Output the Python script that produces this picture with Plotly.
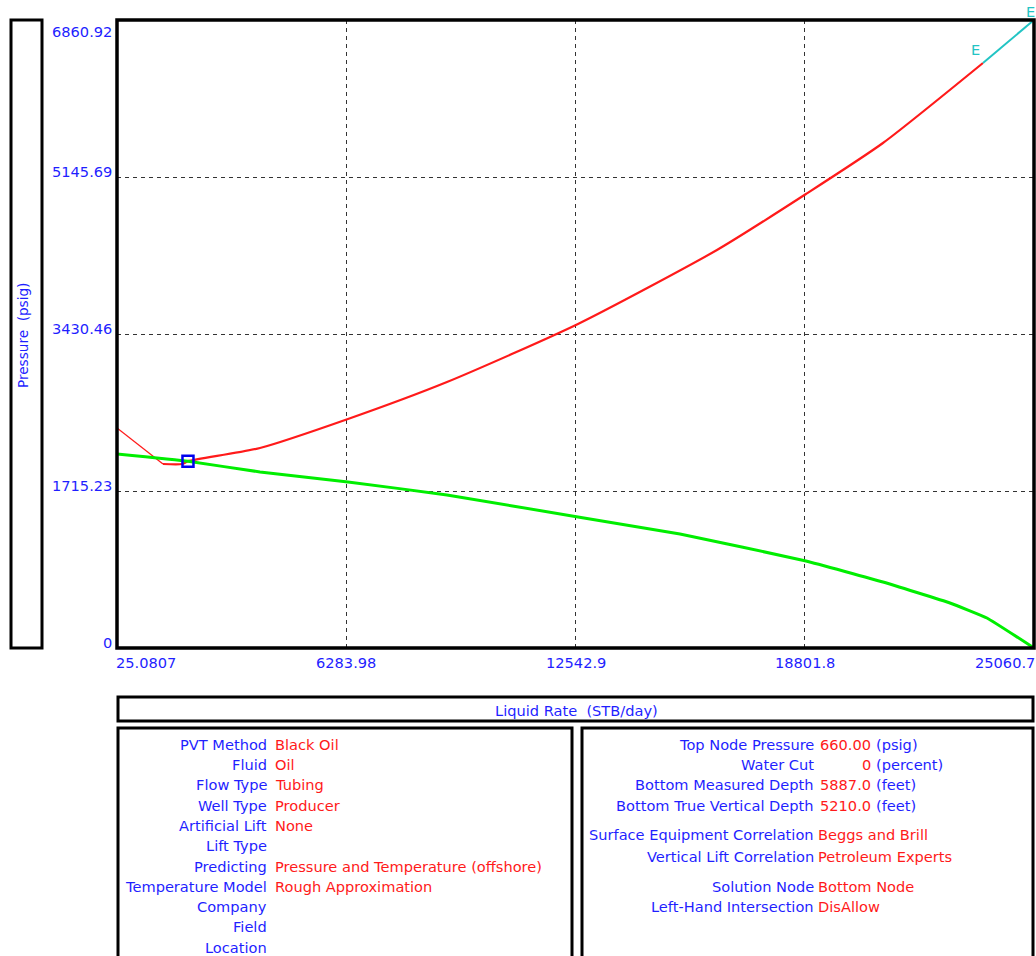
import plotly.graph_objects as go

# ---- data -------------------------------------------------------------
# VLP (tubing performance) curve: liquid rate (STB/day) vs pressure (psig)
vlp_rate = [25.0807, 1281, 1800, 1963, 3929, 6331, 9034, 12611, 16405, 18835,
            20937, 23667]
vlp_pres = [2404, 2010, 2010, 2040, 2185, 2502, 2906, 3540, 4348, 4960,
            5517, 6391]

# extrapolated tail of the VLP curve
ext_rate = [23667, 25060.7]
ext_pres = [6391, 6860.92]

# IPR (inflow performance) curve
ipr_rate = [25.0807, 1963, 3929, 6331, 9034, 12611, 15395, 18835, 20937, 22766,
            23776, 25060.7]
ipr_pres = [2119, 2040, 1923, 1814, 1672, 1431, 1245, 951, 721, 492,
            328, 0]

# operating point
sol_rate = [1963]
sol_pres = [2040]

# axis ticks
x_ticks = [25.0807, 6283.98, 12542.9, 18801.8, 25060.7]
x_tick_labels = ["25.0807", "6283.98", "12542.9", "18801.8", "25060.7"]
y_ticks = [0, 1715.23, 3430.46, 5145.69, 6860.92]
y_tick_labels = ["0", "1715.23", "3430.46", "5145.69", "6860.92"]

# summary panels
left_keys = ["PVT Method", "Fluid", "Flow Type", "Well Type", "Artificial Lift",
             "Lift Type", "Predicting", "Temperature Model", "Company", "Field",
             "Location"]
left_vals = ["Black Oil", "Oil", "Tubing", "Producer", "None", "",
             "Pressure and Temperature (offshore)", "Rough Approximation", "", "", ""]

right_keys = ["Top Node Pressure", "Water Cut", "Bottom Measured Depth",
              "Bottom True Vertical Depth", "Surface Equipment Correlation",
              "Vertical Lift Correlation", "Solution Node", "Left-Hand Intersection"]
right_vals = ["660.00", "0", "5887.0", "5210.0", "Beggs and Brill",
              "Petroleum Experts", "Bottom Node", "DisAllow"]
right_units = ["(psig)", "(percent)", "(feet)", "(feet)", "", "", "", ""]

# ---- styling ----------------------------------------------------------
W, H = 1036, 956
FONT = "DejaVu Sans"
FS = 14.6
BLUE = "#1f1fff"
RED = "#ff1a1a"
CYAN = "#22c4c4"


def px(x):
    return x / W


def py(y):
    return 1 - y / H


X0, X1, Y0, Y1 = 117, 1034, 20, 648   # plot frame in pixels

fig = go.Figure()

# unstable left part of the VLP curve (thin)
fig.add_trace(go.Scatter(x=vlp_rate[:2], y=vlp_pres[:2], mode="lines",
                         line=dict(color=RED, width=1.3), hoverinfo="skip"))
fig.add_trace(go.Scatter(x=vlp_rate[1:], y=vlp_pres[1:], mode="lines",
                         line=dict(color=RED, width=2.2, shape="spline", smoothing=0.6),
                         name="VLP"))
fig.add_trace(go.Scatter(x=ext_rate, y=ext_pres, mode="lines",
                         line=dict(color=CYAN, width=2), name="Extrapolated"))
fig.add_trace(go.Scatter(x=ipr_rate, y=ipr_pres, mode="lines",
                         line=dict(color="#00ee00", width=3, shape="spline", smoothing=0.3),
                         name="IPR"))
fig.add_trace(go.Scatter(x=sol_rate, y=sol_pres, mode="markers",
                         marker=dict(symbol="square-open", size=11, color="#0000ee",
                                     line=dict(width=2.5, color="#0000ee")),
                         name="Solution"))

annotations = []

# y tick labels
for v, t in zip(y_ticks, y_tick_labels):
    top = v == y_ticks[-1]
    annotations.append(dict(x=px(114), xref="paper", y=v, yref="y", text=t,
                            showarrow=False, xanchor="right", yanchor="middle",
                            yshift=-11 if top else 6,
                            font=dict(family=FONT, size=FS, color=BLUE)))

# x tick labels
for i, (v, t) in enumerate(zip(x_ticks, x_tick_labels)):
    anchor = "left" if i == 0 else ("right" if i == len(x_ticks) - 1 else "center")
    annotations.append(dict(x=v, xref="x", y=py(662), yref="paper", text=t,
                            showarrow=False, xanchor=anchor, yanchor="middle",
                            xshift=-3 if i == 0 else (3 if anchor == "right" else 0),
                            font=dict(family=FONT, size=FS, color=BLUE)))

# "E" markers at both ends of the extrapolated segment
annotations.append(dict(x=ext_rate[0], y=ext_pres[0], xref="x", yref="y", text="E",
                        showarrow=False, xanchor="right", yanchor="bottom",
                        xshift=-1, yshift=3,
                        font=dict(family=FONT, size=FS, color=CYAN)))
annotations.append(dict(x=ext_rate[1], y=ext_pres[1], xref="x", yref="y", text="E",
                        showarrow=False, xanchor="right", yanchor="bottom",
                        xshift=3, yshift=-2,
                        font=dict(family=FONT, size=FS, color=CYAN)))

# axis titles
annotations.append(dict(x=px(23), y=py(336), xref="paper", yref="paper",
                        text="Pressure  (psig)", textangle=-90, showarrow=False,
                        xanchor="center", yanchor="middle",
                        font=dict(family=FONT, size=FS - 1, color=BLUE)))
annotations.append(dict(x=px(576), y=py(710), xref="paper", yref="paper",
                        text="Liquid Rate  (STB/day)", showarrow=False,
                        xanchor="center", yanchor="middle",
                        font=dict(family=FONT, size=FS, color=BLUE)))

# left summary panel
left_rows = [744, 764, 784, 805, 825, 845, 866, 886, 906, 926, 947]
for k, v, yy in zip(left_keys, left_vals, left_rows):
    annotations.append(dict(x=px(269), y=py(yy), xref="paper", yref="paper", text=k,
                            showarrow=False, xanchor="right", yanchor="middle",
                            font=dict(family=FONT, size=FS, color=BLUE)))
    if v:
        annotations.append(dict(x=px(273), y=py(yy), xref="paper", yref="paper", text=v,
                                showarrow=False, xanchor="left", yanchor="middle",
                                font=dict(family=FONT, size=FS, color=RED)))

# right summary panel
right_rows = [744, 764, 784, 805, 834, 856, 886, 906]
for k, v, u, yy in zip(right_keys, right_vals, right_units, right_rows):
    annotations.append(dict(x=px(816), y=py(yy), xref="paper", yref="paper", text=k,
                            showarrow=False, xanchor="right", yanchor="middle",
                            font=dict(family=FONT, size=FS, color=BLUE)))
    if u:
        annotations.append(dict(x=px(873), y=py(yy), xref="paper", yref="paper", text=v,
                                showarrow=False, xanchor="right", yanchor="middle",
                                font=dict(family=FONT, size=FS, color=RED)))
        annotations.append(dict(x=px(874), y=py(yy), xref="paper", yref="paper", text=u,
                                showarrow=False, xanchor="left", yanchor="middle",
                                font=dict(family=FONT, size=FS, color=BLUE)))
    else:
        annotations.append(dict(x=px(816), y=py(yy), xref="paper", yref="paper", text=v,
                                showarrow=False, xanchor="left", yanchor="middle",
                                font=dict(family=FONT, size=FS, color=RED)))


# frames
def frame(x0, y0, x1, y1, w=3):
    return dict(type="rect", xref="paper", yref="paper",
                x0=px(x0), x1=px(x1), y0=py(y1), y1=py(y0),
                line=dict(color="black", width=w), fillcolor="rgba(0,0,0,0)",
                layer="above")


shapes = [
    frame(11, 20, 42, 648),
    frame(X0, Y0, X1, Y1, 3.5),
    frame(118, 697, 1033, 721),
    frame(118, 728, 572, 960),
    frame(582, 728, 1033, 960),
]

fig.update_layout(
    width=W, height=H,
    margin=dict(l=0, r=0, t=0, b=0),
    paper_bgcolor="white", plot_bgcolor="white",
    showlegend=False,
    xaxis=dict(domain=[px(X0), px(X1)], range=[x_ticks[0], x_ticks[-1]],
               tickvals=x_ticks[1:-1], showticklabels=False, ticks="",
               showgrid=True, gridcolor="#333333", gridwidth=1.2, griddash="4px,4px",
               zeroline=False, showline=False),
    yaxis=dict(domain=[py(Y1), py(Y0)], range=[y_ticks[0], y_ticks[-1]],
               tickvals=y_ticks[1:-1], showticklabels=False, ticks="",
               showgrid=True, gridcolor="#333333", gridwidth=1.2, griddash="4px,4px",
               zeroline=False, showline=False),
    annotations=annotations,
    shapes=shapes,
)

fig.write_html("out.html")
